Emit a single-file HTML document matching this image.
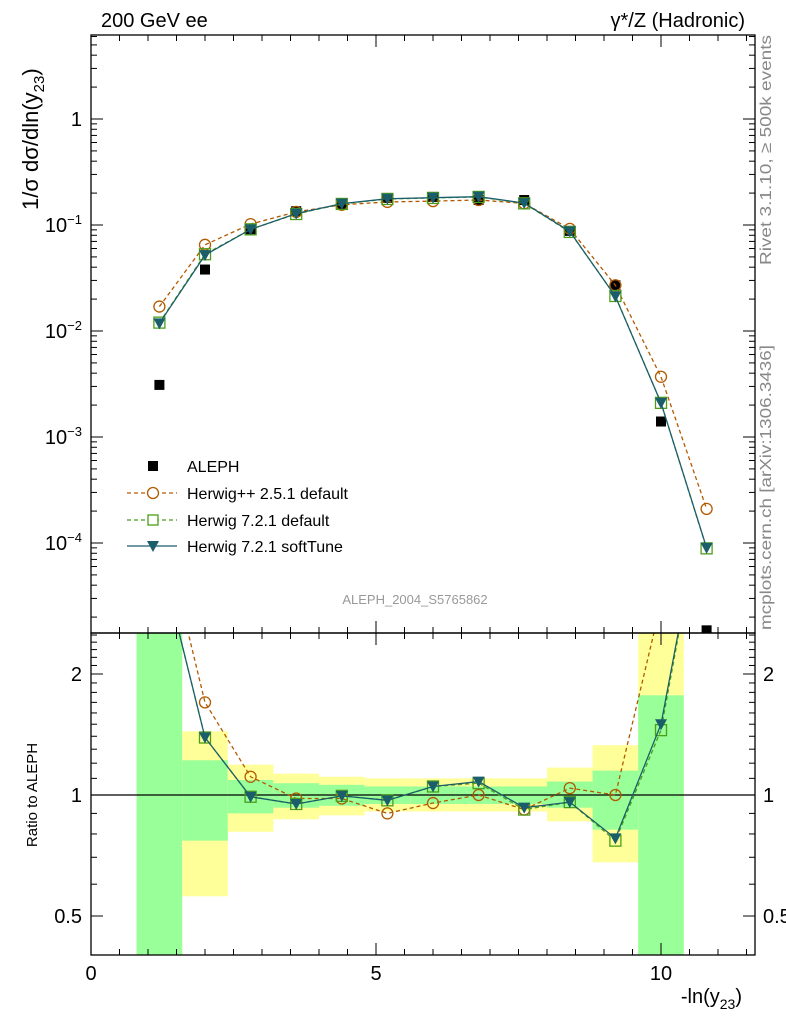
<!DOCTYPE html>
<html><head><meta charset="utf-8"><style>
body{margin:0;background:#fff;}
svg text{font-family:"Liberation Sans",sans-serif;}
</style></head><body>
<svg id="chart" width="786" height="1024" xmlns="http://www.w3.org/2000/svg">
<g id="bands"></g><g id="marks"></g><g id="axes"></g>
</svg>
<script>
const xs=[1.2,2.0,2.8,3.6,4.4,5.2,6.0,6.8,7.6,8.4,9.2,10.0,10.8];
const aleph=[0.0031,0.038,0.091,0.135,0.158,0.18,0.184,0.172,0.172,0.088,0.027,0.0014,0.000015];
const hwpp=[0.017,0.065,0.102,0.133,0.155,0.165,0.168,0.172,0.16,0.092,0.027,0.0037,0.00021];
const h7def=[0.012,0.053,0.091,0.127,0.158,0.176,0.18,0.184,0.16,0.086,0.0214,0.0021,0.000089];
const h7soft=[0.0118,0.052,0.091,0.128,0.159,0.177,0.181,0.185,0.161,0.087,0.0212,0.0021,0.00009];
const rHwpp=[5,1.70,1.11,0.98,0.98,0.90,0.955,1.0,0.92,1.04,1.0,3,14];
const rH7def=[4,1.39,0.99,0.95,0.995,0.97,1.05,1.07,0.92,0.96,0.77,1.45,6];
const rH7soft=[4,1.39,0.99,0.95,0.995,0.97,1.05,1.08,0.93,0.96,0.78,1.5,6];
const yelLo=[0.3,0.56,0.81,0.87,0.89,0.91,0.91,0.91,0.91,0.86,0.68,0.3];
const yelHi=[3,1.44,1.19,1.13,1.11,1.10,1.10,1.10,1.10,1.17,1.33,3];
const grnLo=[0.3,0.77,0.90,0.93,0.94,0.95,0.95,0.95,0.95,0.93,0.82,0.3];
const grnHi=[3,1.22,1.09,1.07,1.06,1.05,1.05,1.05,1.05,1.08,1.15,1.77];
const xTicks=[0,5,10];
const yTicks=[1,0.1,0.01,0.001,0.0001];
const yTickLbl=["1","10<tspan dy='-8' font-size='13'>−1</tspan>","10<tspan dy='-8' font-size='13'>−2</tspan>","10<tspan dy='-8' font-size='13'>−3</tspan>","10<tspan dy='-8' font-size='13'>−4</tspan>"];
const rTicks=[0.5,1,2];

const L=91,R=755,T=35,M=633,B=955;
const X=v=>L+v*57;
const Y=v=>119-Math.log10(v)*106;
const YR=v=>795-Math.log10(v)*402;
const NS="http://www.w3.org/2000/svg";
function mk(p,tag,at){const e=document.createElementNS(NS,tag);for(const k in at)e.setAttribute(k,at[k]);p.appendChild(e);return e;}
const svg=document.getElementById('chart');
const gb=document.getElementById('bands'),gm=document.getElementById('marks'),ga=document.getElementById('axes');
const defs=mk(svg,'defs',{});
const c1=mk(defs,'clipPath',{id:'cm'});mk(c1,'rect',{x:L,y:T,width:R-L,height:M-T});
const c2=mk(defs,'clipPath',{id:'cr'});mk(c2,'rect',{x:L,y:M,width:R-L,height:B-M});
gb.setAttribute('clip-path','url(#cr)');
yelLo.forEach((lo,i)=>{
 const x0=X(xs[i]-0.4),x1=X(xs[i]+0.4);
 const y=mk(gb,'rect',{x:x0,y:YR(yelHi[i]),width:x1-x0,height:YR(lo)-YR(yelHi[i]),fill:'#ffff99'});
 
 
 const g=mk(gb,'rect',{x:x0,y:YR(grnHi[i]),width:x1-x0,height:YR(grnLo[i])-YR(grnHi[i]),fill:'#99ff99'});
 
 
});
mk(gb,'line',{x1:L,x2:R,y1:YR(1),y2:YR(1),stroke:'#000','stroke-width':1.3});
const gmain=mk(gm,'g',{'clip-path':'url(#cm)'});
const grat=mk(gm,'g',{'clip-path':'url(#cr)'});
function series(p,vals,yf,color,dash,marker,name){
 const pts=vals.map((v,i)=>[X(xs[i]),yf(v)]);
 const pl=mk(p,'polyline',{points:pts.map(q=>q.join(',')).join(' '),fill:'none',stroke:color,'stroke-width':1.3,'stroke-dasharray':dash});
 
 
 pts.forEach(([x,y])=>{let m;
  if(marker==='o')m=mk(p,'circle',{cx:x,cy:y,r:5.5,fill:'none',stroke:color,'stroke-width':1.3});
  else if(marker==='s')m=mk(p,'rect',{x:x-5.5,y:y-5.5,width:11,height:11,fill:'none',stroke:color,'stroke-width':1.3});
  else if(marker==='v')m=mk(p,'polygon',{points:`${x-6},${y-5} ${x+6},${y-5} ${x},${y+6}`,fill:color});
  else m=mk(p,'rect',{x:x-5,y:y-5,width:10,height:10,fill:'#000'});
  
  
 });
}
series(gmain,aleph,Y,'none','','sq','aleph');
series(gmain,hwpp,Y,'#b35900','4,3','o','herwigpp');
series(gmain,h7def,Y,'#4c9e1a','4,3','s','herwig7-default');
series(gmain,h7soft,Y,'#1b5e6b','','v','herwig7-softtune');
series(grat,rHwpp,YR,'#b35900','4,3','o','ratio-herwigpp');
series(grat,rH7def,YR,'#4c9e1a','4,3','s','ratio-herwig7-default');
series(grat,rH7soft,YR,'#1b5e6b','','v','ratio-herwig7-softtune');
mk(ga,'rect',{x:L,y:T,width:R-L,height:M-T,fill:'none',stroke:'#000','stroke-width':1.3});
mk(ga,'rect',{x:L,y:M,width:R-L,height:B-M,fill:'none',stroke:'#000','stroke-width':1.3});
for(let v=0;v<=11.5;v+=0.5){const x=X(v),big=v%5===0,len=big?12:6;
 [[T,T+len],[M,M-len],[M,M+len],[B,B-len]].forEach(([a,b])=>mk(ga,'line',{x1:x,x2:x,y1:a,y2:b,stroke:'#000','stroke-width':1}));}
xTicks.forEach(v=>{const t=mk(ga,'text',{x:X(v),y:980,'font-size':20,'text-anchor':'middle'});t.textContent=v;
 
 });
for(let d=-5;d<=0;d++){for(let k=1;k<10;k++){const v=k*Math.pow(10,d),y=Y(v);if(y<T||y>M)continue;const len=k===1?12:6;
 mk(ga,'line',{x1:L,x2:L+len,y1:y,y2:y,stroke:'#000'});mk(ga,'line',{x1:R,x2:R-len,y1:y,y2:y,stroke:'#000'});}}
yTicks.forEach((v,i)=>{const t=mk(ga,'text',{x:82,y:Y(v)+7,'font-size':20,'text-anchor':'end'});t.innerHTML=yTickLbl[i];
 
 });
for(let v=0.4;v<=2.55;v+=0.1){const y=YR(v);if(y<M||y>B)continue;const big=rTicks.some(r=>Math.abs(r-v)<1e-6);const len=big?12:6;
 mk(ga,'line',{x1:L,x2:L+len,y1:y,y2:y,stroke:'#000'});mk(ga,'line',{x1:R,x2:R-len,y1:y,y2:y,stroke:'#000'});}
rTicks.forEach(v=>{const lbl=String(v);
 const t=mk(ga,'text',{x:82,y:YR(v)+7,'font-size':20,'text-anchor':'end'});t.textContent=lbl;
 
 
 const t2=mk(ga,'text',{x:763,y:YR(v)+7,'font-size':20});t2.textContent=lbl;
 
 });
</script>
<svg style="position:absolute;left:0;top:0" width="786" height="1024" xmlns="http://www.w3.org/2000/svg">
<text x="101" y="27" font-size="20" font-family="Liberation Sans">200 GeV ee</text>
<text x="745" y="27" font-size="20" text-anchor="end" font-family="Liberation Sans">γ*/Z (Hadronic)</text>
<text transform="translate(38,210) rotate(-90)" font-size="22" font-family="Liberation Sans">1/σ  dσ/dln(y<tspan dy="6" font-size="15">23</tspan><tspan dy="-6">)</tspan></text>
<text transform="translate(37,795) rotate(-90)" font-size="15" text-anchor="middle" font-family="Liberation Sans">Ratio to ALEPH</text>
<text x="742" y="1003" font-size="20" text-anchor="end" font-family="Liberation Sans">-ln(y<tspan dy="6" font-size="14">23</tspan><tspan dy="-6">)</tspan></text>
<text transform="translate(771,265) rotate(-90)" font-size="16" textLength="230" lengthAdjust="spacingAndGlyphs" fill="#888" font-family="Liberation Sans">Rivet 3.1.10, ≥ 500k events</text>
<text transform="translate(771,630) rotate(-90)" font-size="16" textLength="285" lengthAdjust="spacingAndGlyphs" fill="#888" font-family="Liberation Sans">mcplots.cern.ch [arXiv:1306.3436]</text>
<text x="415" y="604" font-size="13" fill="#999" text-anchor="middle" font-family="Liberation Sans">ALEPH_2004_S5765862</text>
<g font-family="Liberation Sans" font-size="16">
<rect x="148" y="461" width="10" height="10" fill="#000"/>
<text x="187" y="472">ALEPH</text>
<line x1="127" x2="177" y1="493" y2="493" stroke="#b35900" stroke-dasharray="4,3" stroke-width="1.3"/>
<circle cx="153" cy="493" r="5.5" fill="#fff" stroke="#b35900" stroke-width="1.3"/>
<text x="187" y="499">Herwig++ 2.5.1 default</text>
<line x1="127" x2="177" y1="520" y2="520" stroke="#4c9e1a" stroke-dasharray="4,3" stroke-width="1.3"/>
<rect x="148" y="515" width="10" height="10" fill="#fff" stroke="#4c9e1a" stroke-width="1.3"/>
<text x="187" y="526">Herwig 7.2.1 default</text>
<line x1="127" x2="177" y1="546" y2="546" stroke="#1b5e6b" stroke-width="1.3"/>
<polygon points="147,541 159,541 153,552" fill="#1b5e6b"/>
<text x="187" y="552">Herwig 7.2.1 softTune</text>
</g>
</svg>
</body></html>
